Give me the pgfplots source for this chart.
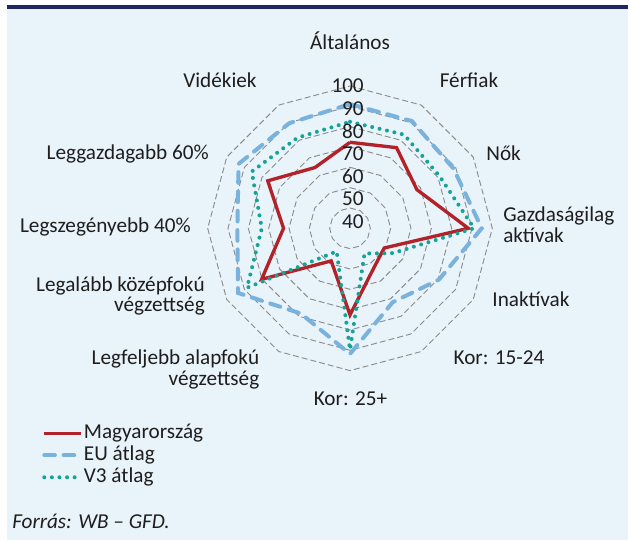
\documentclass[border=0pt]{standalone}
\usepackage{pgfplots}
\pgfplotsset{compat=1.18}
\usepackage{pgfplotstable}
\usepackage{fontspec}
\setmainfont{Carlito}
\definecolor{hured}{RGB}{178,34,40}
\definecolor{eublue}{RGB}{122,178,222}
\definecolor{vteal}{RGB}{20,163,150}
\definecolor{bgblue}{RGB}{233,243,250}
\definecolor{navyline}{RGB}{28,40,95}
\definecolor{txt}{RGB}{30,30,30}
\definecolor{ringgray}{RGB}{140,140,140}

\pgfplotstableread{
i hu eu v3
0 72.3 91.1 82.4
1 75.8 90.9 83.2
2 68.0 88.8 81.0
3 88.2 94.8 91.0
4 49.4 80.5 54.4
5 53.0 72.0 44.3
6 72.6 91.8 89.7
7 48.5 78.4 43.1
8 80.2 93.6 88.5
9 62.7 85.4 73.4
10 76.7 93.3 85.8
11 64.5 89.7 81.5
12 72.3 91.1 82.4
}\radar

\newcommand{\rx}[2]{350+(#1-30)*2.033*cos(#2)}
\newcommand{\ry}[2]{228.3-(#1-30)*2.033*sin(#2)}

\begin{document}
\fontsize{15.9}{15.5}\selectfont
\begin{tikzpicture}
\begin{axis}[
 width=471pt, height=405.75pt, scale only axis,
 xmin=0, xmax=628, ymin=0, ymax=541, y dir=reverse,
 hide axis, clip=false,
 legend style={at={(axis cs:42,422.7)}, anchor=north west, draw=none, fill=none,
   font=\fontsize{15.9}{15.5}\selectfont, text=txt, row sep=1pt, inner sep=0pt,
   nodes={inner sep=0.5pt, text height=11pt, text depth=3.5pt},
   /tikz/every even column/.append style={column sep=6.5pt}},
 legend cell align=left,
 legend image code/.code={\draw[#1] (0pt,0pt) -- (27.75pt,0pt);},
]
\path (axis cs:0,0) rectangle (axis cs:628,541);
\fill[bgblue] (axis cs:7,9) rectangle (axis cs:628,540);
\fill[navyline] (axis cs:7,5.5) rectangle (axis cs:628,9);

\pgfplotsinvokeforeach{40,50,60,70,80,90,100}{
\draw[ringgray, line width=0.7pt, dash pattern=on 4.5pt off 2.25pt]
 (axis cs:{\rx{#1}{90}},{\ry{#1}{90}}) --
 (axis cs:{\rx{#1}{60}},{\ry{#1}{60}}) --
 (axis cs:{\rx{#1}{30}},{\ry{#1}{30}}) --
 (axis cs:{\rx{#1}{0}},{\ry{#1}{0}}) --
 (axis cs:{\rx{#1}{-30}},{\ry{#1}{-30}}) --
 (axis cs:{\rx{#1}{-60}},{\ry{#1}{-60}}) --
 (axis cs:{\rx{#1}{-90}},{\ry{#1}{-90}}) --
 (axis cs:{\rx{#1}{-120}},{\ry{#1}{-120}}) --
 (axis cs:{\rx{#1}{-150}},{\ry{#1}{-150}}) --
 (axis cs:{\rx{#1}{180}},{\ry{#1}{180}}) --
 (axis cs:{\rx{#1}{150}},{\ry{#1}{150}}) --
 (axis cs:{\rx{#1}{120}},{\ry{#1}{120}}) -- cycle;
}

\addplot[hured, line width=2.5pt, no marks] table[
  x expr={\rx{\thisrow{hu}}{90-30*\thisrow{i}}},
  y expr={\ry{\thisrow{hu}}{90-30*\thisrow{i}}}] {\radar};
\addlegendentry{Magyarország}
\addplot[eublue, line width=3pt, line cap=round, dash pattern=on 8pt off 6.5pt, no marks] table[
  x expr={\rx{\thisrow{eu}}{90-30*\thisrow{i}}},
  y expr={\ry{\thisrow{eu}}{90-30*\thisrow{i}}}] {\radar};
\addlegendentry{EU átlag}
\addplot[vteal, line width=3pt, line cap=round, dash pattern=on 0pt off 5.7pt, no marks] table[
  x expr={\rx{\thisrow{v3}}{90-30*\thisrow{i}}},
  y expr={\ry{\thisrow{v3}}{90-30*\thisrow{i}}}] {\radar};
\addlegendentry{V3 átlag}

\foreach \v/\yy in {100/86,90/108.6,80/131.2,70/153.8,60/176.4,50/199,40/221.6}{
  \edef\tmp{\noexpand\node[anchor=east, text=txt, inner sep=0pt] at (axis cs:364,\yy) {\v};}\tmp
}

\node[text=txt] at (axis cs:350,41) {Általános};
\node[text=txt] at (axis cs:469,80) {Férfiak};
\node[text=txt] at (axis cs:503.6,153) {Nők};
\node[text=txt, anchor=west, align=left, inner sep=0pt] at (axis cs:503,225) {Gazdaságilag\\aktívak};
\node[text=txt] at (axis cs:531,299) {Inaktívak};
\node[text=txt] at (axis cs:499,358) {Kor: 15-24};
\node[text=txt] at (axis cs:350.5,399) {Kor: 25+};
\node[text=txt, anchor=east, align=right, inner sep=0pt] at (axis cs:259.5,369.3) {Legfeljebb alapfokú\\végzettség};
\node[text=txt, anchor=east, align=right, inner sep=0pt] at (axis cs:205,296) {Legalább középfokú\\végzettség};
\node[text=txt, anchor=east, inner sep=0pt] at (axis cs:191,227) {Legszegényebb 40\%};
\node[text=txt, anchor=east, inner sep=0pt] at (axis cs:209,153.5) {Leggazdagabb 60\%};
\node[text=txt] at (axis cs:220,80) {Vidékiek};
\node[text=txt, anchor=west, inner sep=0pt] at (axis cs:12,521) {\textit{Forrás: WB – GFD.}};
\end{axis}
\end{tikzpicture}
\end{document}
